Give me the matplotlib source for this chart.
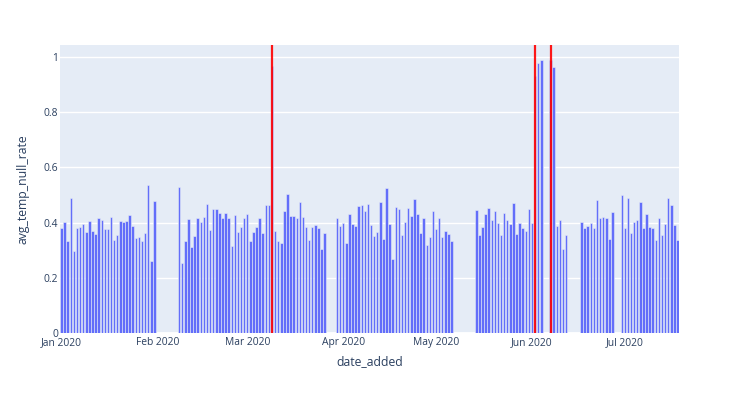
import matplotlib.pyplot as plt
import matplotlib.dates as mdates
import pandas as pd

# daily avg_temp_null_rate, one list per run of consecutive days
jan_start = "2020-01-01"
jan_vals = [0.379, 0.401, 0.334, 0.488, 0.298, 0.379, 0.384, 0.396, 0.366, 0.405,
            0.370, 0.360, 0.415, 0.411, 0.376, 0.376, 0.420, 0.337, 0.355, 0.406,
            0.402, 0.405, 0.427, 0.388, 0.345, 0.348, 0.334, 0.363, 0.536, 0.260,
            0.478]

feb_start = "2020-02-08"
feb_vals = [0.528, 0.255, 0.332, 0.412, 0.310, 0.350, 0.418, 0.401, 0.419, 0.467,
            0.373, 0.449, 0.448, 0.435, 0.418, 0.435, 0.415, 0.315, 0.429, 0.366,
            0.384, 0.415, 0.430, 0.334, 0.366, 0.383, 0.415, 0.363, 0.463, 0.465,
            0.966, 0.368, 0.334, 0.325, 0.442, 0.504, 0.425, 0.425, 0.415, 0.476,
            0.420, 0.384, 0.337, 0.383, 0.391, 0.379, 0.303, 0.362]

apr_start = "2020-03-30"
apr_vals = [0.415, 0.389, 0.399, 0.325, 0.431, 0.394, 0.389, 0.459, 0.465, 0.441,
            0.466, 0.391, 0.352, 0.367, 0.473, 0.341, 0.524, 0.396, 0.268, 0.458,
            0.448, 0.356, 0.402, 0.454, 0.425, 0.486, 0.432, 0.363, 0.418, 0.320,
            0.347, 0.441, 0.377, 0.415, 0.346, 0.368, 0.359, 0.332]

may_start = "2020-05-14"
may_vals = [0.446, 0.354, 0.384, 0.431, 0.453, 0.408, 0.441, 0.399, 0.356, 0.434,
            0.409, 0.396, 0.469, 0.359, 0.399, 0.379, 0.371, 0.449, 0.399, 0.930,
            0.978, 0.990]

jun_start = "2020-06-07"
jun_vals = [0.990, 0.963, 0.388, 0.408, 0.303, 0.356]

jun2_start = "2020-06-17"
jun2_vals = [0.401, 0.379, 0.387, 0.399, 0.382, 0.482, 0.418, 0.420, 0.415, 0.341,
             0.437]

jul_start = "2020-06-30"
jul_vals = [0.499, 0.379, 0.488, 0.362, 0.401, 0.408, 0.473, 0.379, 0.431, 0.383,
            0.381, 0.338, 0.418, 0.355, 0.394, 0.488, 0.465, 0.391, 0.336]

# days flagged with a red line
flagged_dates = ["2020-03-09", "2020-06-02", "2020-06-07"]

segments = [(jan_start, jan_vals), (feb_start, feb_vals), (apr_start, apr_vals),
            (may_start, may_vals), (jun_start, jun_vals), (jun2_start, jun2_vals),
            (jul_start, jul_vals)]

dates = []
values = []
for start, vals in segments:
    dates.extend(pd.date_range(start, periods=len(vals), freq="D"))
    values.extend(vals)

text_color = "#2a3f5f"
plt.rcParams["font.family"] = ["Open Sans", "DejaVu Sans"]

fig = plt.figure(figsize=(7.39, 3.94), dpi=100)
ax = fig.add_axes([60 / 739, 1 - 333 / 394, 619 / 739, 288 / 394])
ax.set_facecolor("#E5ECF6")

ax.bar(dates, values, width=0.8, color="#636EFA", edgecolor="#E5ECF6",
       linewidth=0.4, zorder=2)

for d in flagged_dates:
    ax.axvline(pd.Timestamp(d), color="red", linewidth=1.6, alpha=0.9, zorder=3)

ax.set_xlim(pd.Timestamp("2020-01-01") - pd.Timedelta(hours=12),
            pd.Timestamp("2020-07-18") + pd.Timedelta(hours=12))
ax.set_ylim(0, 1.043)

ax.xaxis.set_major_locator(mdates.MonthLocator())
ax.xaxis.set_major_formatter(mdates.DateFormatter("%b %Y"))
ax.set_yticks([0, 0.2, 0.4, 0.6, 0.8, 1.0])
ax.set_yticklabels(["0", "0.2", "0.4", "0.6", "0.8", "1"])

ax.grid(True, axis="y", color="white", linewidth=1, zorder=0)
ax.set_axisbelow(True)
ax.axhline(0, color="white", linewidth=2, zorder=1)
for s in ax.spines.values():
    s.set_visible(False)
ax.tick_params(length=0, labelsize=7.4, labelcolor=text_color)
ax.tick_params(axis="x", pad=3)
ax.tick_params(axis="y", pad=1.5)

ax.set_xlabel("date_added", fontsize=8.8, color=text_color)
ax.set_ylabel("avg_temp_null_rate", fontsize=8.8, color=text_color)
ax.xaxis.label.set_va("center")
ax.yaxis.label.set_va("center")
ax.xaxis.set_label_coords(0.5, (333 - 362) / 288)
ax.yaxis.set_label_coords((23 - 60) / 619, 0.5)

plt.savefig("out.png", dpi=100)
